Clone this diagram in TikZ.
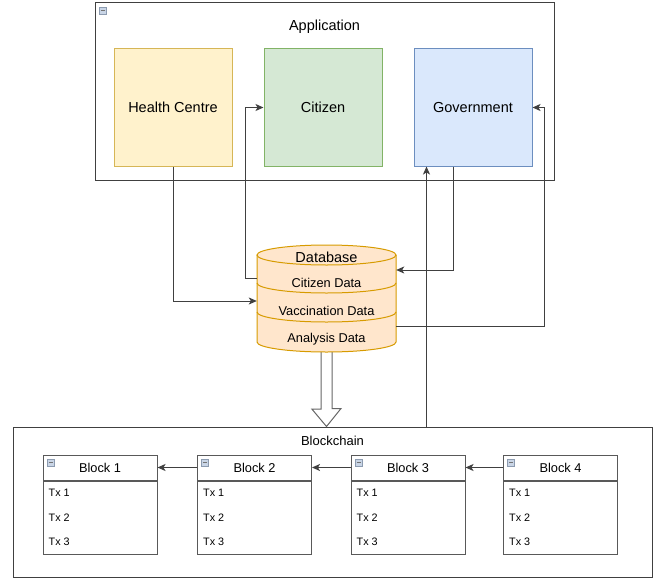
\documentclass[tikz,border=0pt]{standalone}
\usepackage{fontspec}
\setmainfont{Liberation Sans}
\usetikzlibrary{positioning,arrows.meta}
\definecolor{hcfill}{HTML}{FFF2CC}\definecolor{hcline}{HTML}{D6B656}
\definecolor{citfill}{HTML}{D5E8D4}\definecolor{citline}{HTML}{82B366}
\definecolor{govfill}{HTML}{DAE8FC}\definecolor{govline}{HTML}{6C8EBF}
\definecolor{dbfill}{HTML}{FFE6CC}\definecolor{dbline}{HTML}{D79B00}
\definecolor{iconfill}{HTML}{C9D5E6}\definecolor{iconline}{HTML}{8C9BB0}
\begin{document}
\begin{tikzpicture}[x=1pt,y=-1pt,
				every node/.style={font=\fontsize{14.5}{17}\selectfont},
				container/.style={draw=black!75,line width=1pt,inner sep=0pt},
				actor/.style={line width=1pt,minimum width=118pt,minimum height=117pt,inner sep=0pt},
				icon/.style={draw=iconline,fill=iconfill,line width=0.6pt,minimum size=7pt,inner sep=0pt,
					path picture={\draw[black!55,line width=1pt] ([xshift=1.5pt]path picture bounding box.west) -- ([xshift=-1.5pt]path picture bounding box.east);}},
				small/.style={font=\fontsize{12.8}{15}\selectfont},
				blockhead/.style={draw=black!65,fill=white,line width=1pt,minimum width=114pt,minimum height=25pt,inner sep=0pt,small},
				blockbody/.style={draw=black!65,fill=white,line width=1pt,minimum width=114pt,minimum height=73pt,inner sep=0pt},
				txt/.style={anchor=west,inner sep=0pt,font=\fontsize{10.8}{13}\selectfont},
				conn/.style={draw=black!75,line width=1pt,-{Stealth[length=8pt,width=7pt,inset=2pt]}},
				hollow/.style={draw=black!60,fill=white,line width=1pt}]
\useasboundingbox (0,0) rectangle (655,578);
% application
\node[container,minimum width=459pt,minimum height=177pt] (app) at (324.5,91.5) {};
\node[icon] (appicon) at ([xshift=8pt,yshift=-8pt]app.north west) {};
\node (apptitle) at ([yshift=-24pt]app.north) {Application};
\node[actor,draw=hcline,fill=hcfill] (hc) at (173,107.5) {Health Centre};
\node[actor,draw=citline,fill=citfill,right=31pt of hc] (cit) {Citizen};
\node[actor,draw=govline,fill=govfill,right=31pt of cit] (gov) {Government};
% blockchain
\node[container,minimum width=639pt,minimum height=150pt] (bc) at (332.5,502) {};
\node[font=\fontsize{13}{15}\selectfont] (bctitle) at ([yshift=-14pt]bc.north) {Blockchain};
\foreach \n/\x in {1/100,2/254.5,3/408,4/560.5}{
	\node[blockhead] (b\n) at (\x,467.5) {Block \n};
	\node[blockbody,below=0pt of b\n] (body\n) {};
	\node[icon] (icon\n) at ([xshift=8pt,yshift=-8pt]b\n.north west) {};
	\foreach \t/\dy in {1/12,2/37,3/61}
		\node[txt] (tx\n\t) at ([xshift=6pt,yshift=-\dy pt]body\n.north west) {Tx \t};
}
\draw[conn] (b2.west) -- (b1.east);
\draw[conn] (b3.west) -- (b2.east);
\draw[conn] (b4.west) -- (b3.east);
% database
\node[minimum width=139pt,minimum height=108pt,inner sep=0pt] (db) at (326.5,298) {};
\draw[hollow] ([xshift=-5.5pt]db.south) -- ++(0,57) -- ++(-9,0) -- (db.south |- bc.north)
	-- ++(14.5,-18) -- ++(-9,0) -- ([xshift=5.5pt]db.south);
\filldraw[draw=dbline,fill=dbfill,line width=1pt] (257,255) -- (257,342)
	arc[start angle=180,end angle=360,x radius=69.5pt,y radius=10pt] -- (396,255);
\filldraw[draw=dbline,fill=dbfill,line width=1pt] (326.5,255) ellipse[x radius=69.5pt,y radius=10pt];
\draw[dbline,line width=1pt] (257,283) arc[start angle=180,end angle=360,x radius=69.5pt,y radius=10pt];
\draw[dbline,line width=1pt] (257,312) arc[start angle=180,end angle=360,x radius=69.5pt,y radius=10pt];
\node (dbtitle) at (326.5,257) {Database};
\node[small] (dbcit) at (326.5,283) {Citizen Data};
\node[small] (dbvac) at (326.5,311) {Vaccination Data};
\node[small] (dbana) at (326.5,339) {Analysis Data};
% connectors
\coordinate (govin) at ([xshift=-46.5pt]gov.south);
\draw[conn] (hc.south) |- ([yshift=-3pt]db.west);
\draw[conn] ([yshift=20pt]db.west) -- ++(-11,0) |- (cit.west);
\draw[conn] ([xshift=-19.5pt]gov.south) |- ([yshift=28pt]db.east);
\draw[conn] ([yshift=-28pt]db.east) -- ++(148,0) |- (gov.east);
\draw[conn] (govin |- bc.north) -- (govin);
\end{tikzpicture}
\end{document}
